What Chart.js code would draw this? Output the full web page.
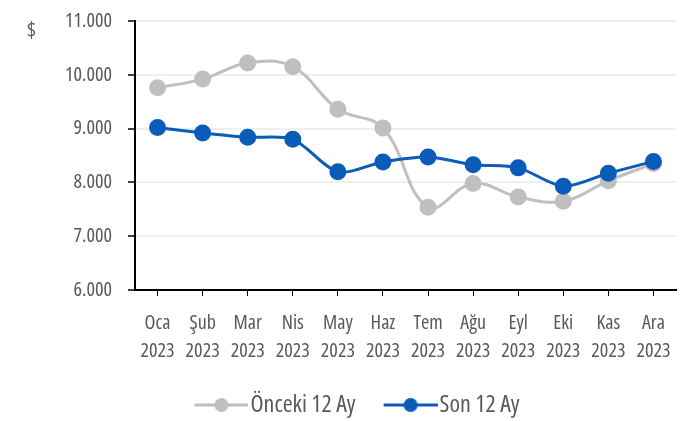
<!DOCTYPE html>
<html>
<head>
<meta charset="utf-8">
<script src="https://cdn.jsdelivr.net/npm/chart.js@4"></script>
<style>
  html, body { margin: 0; padding: 0; background: #fff; }
  #wrap { width: 694px; height: 421px; position: relative; overflow: hidden; }
  #chart { position: absolute; left: 0; top: -7px; }
</style>
</head>
<body>
<div id="wrap"><canvas id="chart" width="694" height="434"></canvas></div>
<script>
const FONT = "'Open Sans', sans-serif";
const WEIGHT = '400 condensed'; // goes into the canvas font shorthand
const TEXT_COLOR = '#595959';

const months = ['Oca', 'Şub', 'Mar', 'Nis', 'May', 'Haz', 'Tem', 'Ağu', 'Eyl', 'Eki', 'Kas', 'Ara'];
const year = '2023';
const previous12 = [9760, 9920, 10220, 10150, 9360, 9010, 7540, 7980, 7730, 7650, 8030, 8350];
const last12 = [9020, 8920, 8840, 8800, 8200, 8380, 8470, 8330, 8270, 7930, 8170, 8390];
const yTicks = [6000, 7000, 8000, 9000, 10000, 11000];

const GRAY = '#bfbfbf';
const BLUE = '#0a5cb8';

// legend marker: line with a dot, right-aligned in a wider transparent image
function legendMarker(color) {
  const c = document.createElement('canvas');
  c.width = 84; c.height = 16;
  const g = c.getContext('2d');
  g.strokeStyle = color;
  g.lineWidth = 3;
  g.beginPath(); g.moveTo(30, 8); g.lineTo(84, 8); g.stroke();
  g.fillStyle = color;
  g.beginPath(); g.arc(57, 8, 7, 0, Math.PI * 2); g.fill();
  return c;
}

const currencyLabel = {
  id: 'currencyLabel',
  afterDraw(chart) {
    const ctx = chart.ctx;
    ctx.save();
    ctx.font = WEIGHT + ' 21px ' + FONT;
    ctx.fillStyle = TEXT_COLOR;
    ctx.textAlign = 'left';
    ctx.textBaseline = 'middle';
    ctx.fillText('$', 27, 38);
    ctx.restore();
  }
};

// nudge the legend a bit to the right, like the original
const legendShift = {
  id: 'legendShift',
  afterLayout(chart) {
    if (chart.legend) {
      chart.legend.left += 9;
      chart.legend.right += 9;
    }
  }
};

const ctx = document.getElementById('chart').getContext('2d');
new Chart(ctx, {
  type: 'line',
  data: {
    labels: months.map(m => [m, year]),
    datasets: [
      {
        label: 'Son 12 Ay',
        data: last12,
        borderColor: BLUE,
        backgroundColor: BLUE,
        borderWidth: 3,
        pointRadius: 7,
        pointHoverRadius: 7,
        tension: 0.3,
        order: 1
      },
      {
        label: 'Önceki 12 Ay',
        data: previous12,
        borderColor: GRAY,
        backgroundColor: GRAY,
        borderWidth: 3,
        pointRadius: 7,
        pointHoverRadius: 7,
        tension: 0.4,
        order: 2
      }
    ]
  },
  options: {
    responsive: false,
    animation: false,
    layout: { padding: { left: 0, right: 18, top: 0, bottom: 0 } },
    plugins: {
      tooltip: { enabled: false },
      legend: {
        position: 'bottom',
        reverse: true,
        labels: {
          usePointStyle: true,
          pointStyleWidth: 64,
          color: TEXT_COLOR,
          font: { family: FONT, size: 24, weight: WEIGHT },
          padding: 8,
          generateLabels(chart) {
            const items = Chart.defaults.plugins.legend.labels.generateLabels(chart);
            items.forEach(it => {
              const ds = chart.data.datasets[it.datasetIndex];
              it.pointStyle = legendMarker(ds.borderColor);
            });
            return items;
          }
        }
      }
    },
    scales: {
      x: {
        offset: true,
        afterFit(scale) { scale.height = 95; },
        grid: {
          offset: false,
          drawOnChartArea: false,
          drawTicks: true,
          tickLength: 6,
          color: '#000'
        },
        border: { color: '#000', width: 2 },
        ticks: {
          color: TEXT_COLOR,
          font: { family: FONT, size: 20, weight: WEIGHT, lineHeight: 1.4 },
          maxRotation: 0,
          autoSkip: false,
          padding: 13
        }
      },
      y: {
        min: 6000,
        max: 11000,
        afterBuildTicks(scale) { scale.ticks = yTicks.map(v => ({ value: v })); },
        afterFit(scale) { scale.width = 135; },
        grid: {
          color: '#efefef',
          lineWidth: 2,
          tickLength: 7,
          tickColor: '#000',
          tickWidth: 1.5
        },
        border: { color: '#000', width: 2 },
        ticks: {
          color: TEXT_COLOR,
          font: { family: FONT, size: 20, weight: WEIGHT },
          padding: 16,
          callback: v => (v / 1000).toFixed(3)
        }
      }
    }
  },
  plugins: [currencyLabel, legendShift]
});
</script>
</body>
</html>
